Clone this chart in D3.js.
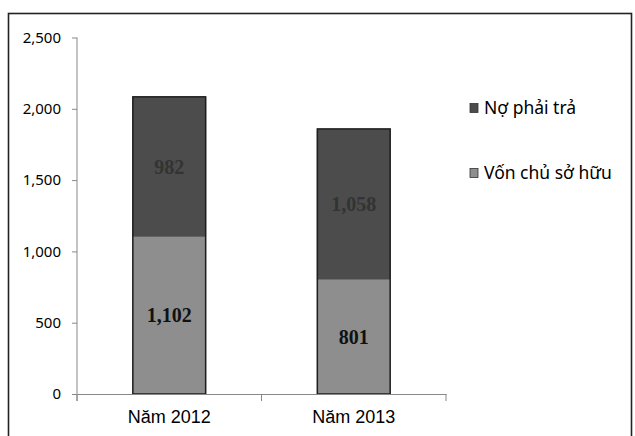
<!DOCTYPE html>
<html>
<head>
<meta charset="utf-8">
<script src="https://cdn.jsdelivr.net/npm/d3@7"></script>
<style>
  body { margin: 0; background: #fff; }
  svg { display: block; }
</style>
</head>
<body>
<div id="chart"></div>
<script>
var categories = ["Năm 2012", "Năm 2013"];
var seriesNames = ["Vốn chủ sở hữu", "Nợ phải trả"];
var vonChuSoHuu = [1102, 801];
var noPhaiTra = [982, 1058];
var yTicks = [0, 500, 1000, 1500, 2000, 2500];

var width = 635, height = 436;
var margin = { top: 37.5, left: 77, bottom: 42, right: 189 };

var svg = d3.select("#chart").append("svg")
    .attr("width", width)
    .attr("height", height);

// outer frame
svg.append("rect")
    .attr("x", 8.5).attr("y", 13.5)
    .attr("width", 623).attr("height", 440)
    .attr("fill", "none").attr("stroke", "#222").attr("stroke-width", 1.6);

var x = d3.scaleBand()
    .domain(categories)
    .range([margin.left, width - margin.right])
    .paddingInner(0.6)
    .paddingOuter(0.3);

var y = d3.scaleLinear()
    .domain([0, 2500])
    .range([height - margin.bottom, margin.top]);

var data = categories.map(function(c, i) {
    return { cat: c, von: vonChuSoHuu[i], no: noPhaiTra[i] };
});
var stack = d3.stack().keys(["von", "no"]);
var layers = stack(data);
var fills = ["#8e8e8e", "#4c4c4c"];

var g = svg.append("g");
layers.forEach(function(layer, li) {
    g.selectAll(".seg" + li)
        .data(layer)
        .enter().append("rect")
        .attr("x", function(d) { return x(d.data.cat); })
        .attr("y", function(d) { return y(d[1]); })
        .attr("width", x.bandwidth())
        .attr("height", function(d) { return y(d[0]) - y(d[1]); })
        .attr("fill", fills[li]);
});
// bar outlines (dark edges)
g.selectAll(".outline")
    .data(data)
    .enter().append("rect")
    .attr("x", function(d) { return x(d.cat) + 0.5; })
    .attr("y", function(d) { return y(d.von + d.no); })
    .attr("width", x.bandwidth() - 1)
    .attr("height", function(d) { return y(0) - y(d.von + d.no); })
    .attr("fill", "none")
    .attr("stroke", "#1e1e1e")
    .attr("stroke-width", 1.5);

// data labels
g.selectAll(".lblVon")
    .data(data)
    .enter().append("text")
    .attr("x", function(d) { return x(d.cat) + x.bandwidth() / 2; })
    .attr("y", function(d) { return y(d.von / 2) + 7; })
    .attr("text-anchor", "middle")
    .attr("font-family", "Liberation Serif, serif")
    .attr("font-weight", "bold")
    .attr("font-size", 20)
    .attr("fill", "#111")
    .text(function(d) { return d3.format(",")(d.von); });

g.selectAll(".lblNo")
    .data(data)
    .enter().append("text")
    .attr("x", function(d) { return x(d.cat) + x.bandwidth() / 2; })
    .attr("y", function(d) { return y(d.von + d.no / 2) + 7; })
    .attr("text-anchor", "middle")
    .attr("font-family", "Liberation Serif, serif")
    .attr("font-weight", "bold")
    .attr("font-size", 20)
    .attr("fill", "#333")
    .text(function(d) { return d3.format(",")(d.no); });

// y axis
var yAxis = svg.append("g")
    .attr("transform", "translate(" + margin.left + ",0)")
    .call(d3.axisLeft(y).tickValues(yTicks).tickFormat(d3.format(",")).tickSize(5).tickSizeOuter(0));
yAxis.select(".domain").attr("stroke", "#888").attr("d", "M0," + margin.top + "V" + (y(0) + 7));
yAxis.selectAll(".tick line").attr("stroke", "#888");
yAxis.selectAll(".tick text")
    .attr("x", -16)
    .attr("font-family", "Noto Sans, sans-serif")
    .attr("font-size", 15)
    .attr("fill", "#000");

// x axis
var xAxis = svg.append("g")
    .attr("transform", "translate(0," + y(0) + ")")
    .call(d3.axisBottom(x).tickSize(0));
xAxis.select(".domain").attr("stroke", "#888");
xAxis.selectAll(".tick text")
    .attr("dy", 0)
    .attr("y", 29)
    .attr("font-family", "Liberation Sans, Arial, sans-serif")
    .attr("font-size", 18)
    .attr("fill", "#000");
var sep = [x.range()[0], x.range()[0] + x.step(), x.range()[1]];
xAxis.selectAll(".sep")
    .data(sep)
    .enter().append("line")
    .attr("x1", function(d) { return d; }).attr("x2", function(d) { return d; })
    .attr("y1", 0).attr("y2", 7)
    .attr("stroke", "#888");

// legend
var legend = svg.append("g");
var legendItems = [
    { name: seriesNames[1], color: fills[1], yy: 108 },
    { name: seriesNames[0], color: fills[0], yy: 173 }
];
legendItems.forEach(function(d) {
    legend.append("rect")
        .attr("x", 470).attr("y", d.yy - 4.5)
        .attr("width", 8).attr("height", 9)
        .attr("fill", d.color).attr("stroke", "#333").attr("stroke-width", 0.8);
    legend.append("text")
        .attr("x", 484).attr("y", d.yy + 6)
        .attr("font-family", "Noto Sans, sans-serif")
        .attr("font-size", 17.5)
        .attr("fill", "#000")
        .text(d.name);
});
</script>
</body>
</html>
